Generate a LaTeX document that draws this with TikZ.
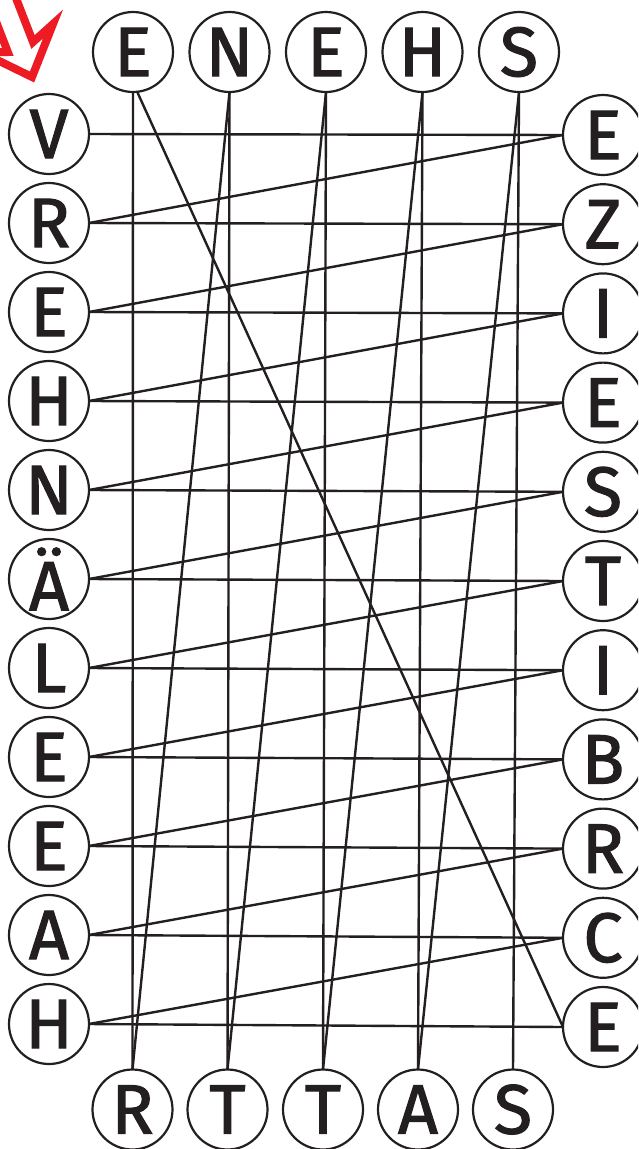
\documentclass[tikz,border=0pt]{standalone}
\usepackage{fontspec}
\setmainfont{Fira Sans}
\newfontfamily\letterfont{Fira Sans}[BoldFont={Fira Sans},BoldFeatures={FakeBold=1.6}]
\definecolor{ink}{RGB}{35,31,32}
\definecolor{arrowred}{RGB}{237,28,36}
\begin{document}
\begin{tikzpicture}[x=1pt,y=-1pt,
  letter/.style={circle,draw=ink,line width=2.2pt,minimum size=80pt,inner sep=0pt,outer sep=0pt,text=ink,font=\letterfont\bfseries\fontsize{70}{70}\selectfont},
  link/.style={draw=ink,line width=2.4pt}]
\clip (0,0) rectangle (638,1149);
% red start arrow
\draw[arrowred,line width=8pt,line join=miter] (32,77) -- (53,24) -- (33,42) -- (-9.4,-67.4) -- (-34.6,-57.6) -- (7.8,52) -- (-18.9,52.1) -- cycle;
% top row
\node[letter] (T1) at (133,52) {E};
\node[letter] (T2) at (229.5,52) {N};
\node[letter] (T3) at (326,52) {E};
\node[letter] (T4) at (422.5,52) {H};
\node[letter] (T5) at (519,52) {S};
% bottom row
\node[letter] (B1) at (132.5,1109.5) {R};
\node[letter] (B2) at (227.5,1109.5) {T};
\node[letter] (B3) at (323,1109.5) {T};
\node[letter] (B4) at (418,1109.5) {A};
\node[letter] (B5) at (513,1109.5) {S};
% left column
\foreach \t [count=\i from 0] in {V,R,E,H,N,Ä,L,E,E,A,H}
  \node[letter] (L\i) at (49,134+89*\i) {\t};
% right column
\foreach \t [count=\i from 0] in {E,Z,I,E,S,T,I,B,R,C,E}
  \node[letter] (R\i) at (603,135+89.2*\i) {\t};
% horizontal links
\foreach \i in {0,...,10}
  \draw[link] (L\i.east) -- (R\i.west);
% diagonal links back
\foreach \i [evaluate=\i as \j using int(\i+1)] in {0,...,9}
  \draw[link] (R\i.west) -- (L\j.east);
% long diagonal
\draw[link] (R10.west) -- (T1.-84);
% verticals
\draw[link] (T1.south) -- (B1.north);
\draw[link] (T2.south) -- (B2.north);
\draw[link] (T3.south) -- (B3.north);
\draw[link] (T4.south) -- (B4.north);
\draw[link] (T5.south) -- (B5.north);
% slants
\draw[link] (T2.south) -- (B1.north);
\draw[link] (T3.south) -- (B2.north);
\draw[link] (T4.south) -- (B3.north);
\draw[link] (T5.south) -- (B4.north);
\end{tikzpicture}
\end{document}
